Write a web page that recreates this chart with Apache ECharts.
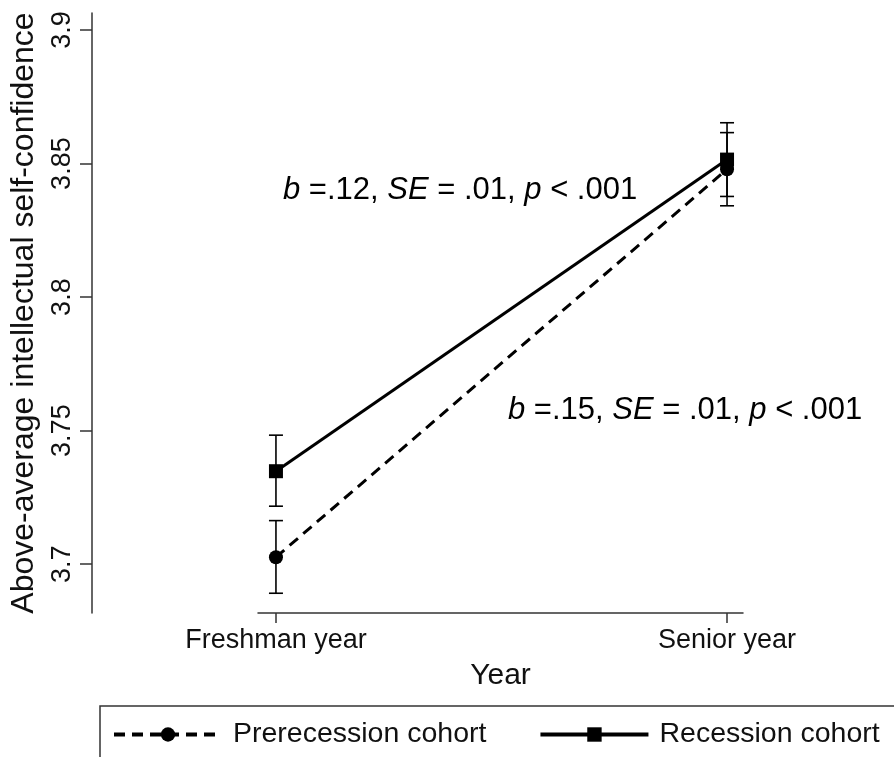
<!DOCTYPE html>
<html>
<head>
<meta charset="utf-8">
<script src="https://cdn.jsdelivr.net/npm/echarts@6/dist/echarts.min.js"></script>
<style>html,body{margin:0;padding:0;background:#fff}#c{width:894px;height:757px}</style>
</head>
<body>
<div id="c"></div>
<script>
const categories = ['Freshman year', 'Senior year'];
const xPositions = [0, 1];
const prerecession = [3.7026, 3.8479];
const prerecessionLow = [3.6891, 3.8342];
const prerecessionHigh = [3.7163, 3.8616];
const recession = [3.7348, 3.8515];
const recessionLow = [3.7217, 3.8377];
const recessionHigh = [3.7483, 3.8653];
const yTicks = [3.7, 3.75, 3.8, 3.85, 3.9];
const seriesNames = ['Prerecession cohort', 'Recession cohort'];
const annotations = ['{i|b} =.12, {i|SE} = .01, {i|p} < .001', '{i|b} =.15, {i|SE} = .01, {i|p} < .001'];

const FONT = 'Liberation Sans, Arial, sans-serif';
const chart = echarts.init(document.getElementById('c'));

function errorBarSeries(lows, highs) {
  return {
    type: 'custom',
    z: 1,
    silent: true,
    data: xPositions.map((x, i) => [x, lows[i], highs[i]]),
    renderItem: function (params, api) {
      const x = api.value(0);
      const lo = api.coord([x, api.value(1)]);
      const hi = api.coord([x, api.value(2)]);
      const hw = 7;
      const st = { stroke: '#000', lineWidth: 1.6 };
      return {
        type: 'group',
        children: [
          { type: 'line', shape: { x1: lo[0], y1: lo[1], x2: hi[0], y2: hi[1] }, style: st },
          { type: 'line', shape: { x1: lo[0] - hw, y1: lo[1], x2: lo[0] + hw, y2: lo[1] }, style: st },
          { type: 'line', shape: { x1: hi[0] - hw, y1: hi[1], x2: hi[0] + hw, y2: hi[1] }, style: st }
        ]
      };
    }
  };
}

const rich = { i: { fontStyle: 'italic', fontSize: 31, fontFamily: FONT, fill: '#000' } };

chart.setOption({
  animation: false,
  backgroundColor: '#fff',
  grid: { left: 257, right: 151, top: 13, bottom: 144 },
  xAxis: {
    type: 'value',
    min: -0.0398,
    max: 1.0354,
    splitLine: { show: false },
    axisLine: { show: true, onZero: false, lineStyle: { color: '#333', width: 1.5 } },
    axisTick: { show: true, length: 10, lineStyle: { color: '#333', width: 1.5 }, customValues: xPositions },
    axisLabel: {
      customValues: xPositions,
      formatter: v => categories[Math.round(v)],
      color: '#111', fontSize: 27, fontFamily: FONT, margin: 14
    },
    name: 'Year',
    nameLocation: 'middle',
    nameGap: 48,
    nameTextStyle: { color: '#111', fontSize: 30, fontFamily: FONT }
  },
  yAxis: {
    type: 'value',
    min: 3.6817,
    max: 3.9064,
    offset: 166,
    splitLine: { show: false },
    axisLine: { show: true, onZero: false, lineStyle: { color: '#333', width: 1.5 } },
    axisTick: { show: true, length: 12, lineStyle: { color: '#333', width: 1.5 }, customValues: yTicks },
    axisLabel: {
      customValues: yTicks,
      rotate: 90,
      formatter: v => String(+v.toFixed(2)),
      color: '#111', fontSize: 27, fontFamily: FONT, margin: 16
    },
    name: 'Above-average intellectual self-confidence',
    nameLocation: 'middle',
    nameGap: 52,
    nameTextStyle: { color: '#111', fontSize: 32, fontFamily: FONT }
  },
  legend: {
    left: 100,
    top: 706,
    width: 1000,
    padding: [14, 120, 40, 12],
    borderColor: '#333',
    borderWidth: 1.5,
    itemWidth: 108,
    itemHeight: 18,
    itemGap: 52,
    data: seriesNames,
    lineStyle: { width: 4 },
    textStyle: { color: '#111', fontSize: 28.5, fontFamily: FONT, padding: [0, 0, 0, 6] }
  },
  graphic: [
    { type: 'text', left: 283, top: 175, style: { text: annotations[0], rich: rich, font: '31px ' + FONT, fill: '#000' } },
    { type: 'text', left: 508, top: 395, style: { text: annotations[1], rich: rich, font: '31px ' + FONT, fill: '#000' } }
  ],
  series: [
    errorBarSeries(prerecessionLow, prerecessionHigh),
    errorBarSeries(recessionLow, recessionHigh),
    {
      name: seriesNames[0],
      type: 'line',
      z: 2,
      data: xPositions.map((x, i) => [x, prerecession[i]]),
      symbol: 'circle',
      symbolSize: 14,
      itemStyle: { color: '#000' },
      lineStyle: { color: '#000', width: 3, type: [11, 7] }
    },
    {
      name: seriesNames[1],
      type: 'line',
      z: 3,
      data: xPositions.map((x, i) => [x, recession[i]]),
      symbol: 'rect',
      symbolSize: 14,
      itemStyle: { color: '#000' },
      lineStyle: { color: '#000', width: 3, type: 'solid' }
    }
  ]
});
</script>
</body>
</html>
